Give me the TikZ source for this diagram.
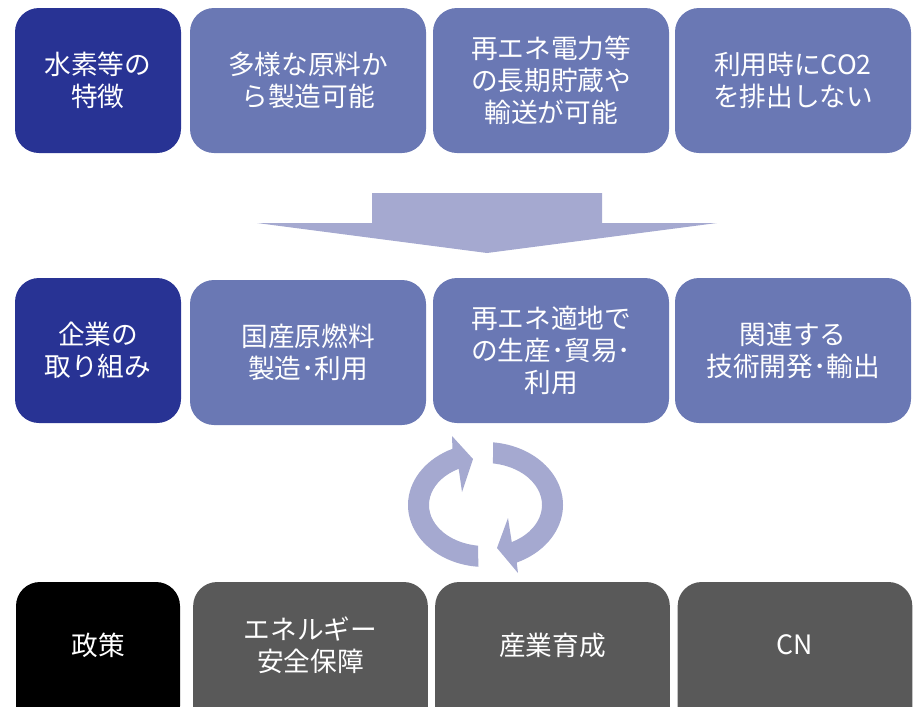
\documentclass[tikz,border=0pt]{standalone}
\usepackage{fontspec}
\setmainfont{Noto Sans CJK JP}
\usetikzlibrary{calc}
\definecolor{navy}{RGB}{40,51,148}
\definecolor{midblue}{RGB}{106,120,180}
\definecolor{lightblue}{RGB}{165,169,208}
\definecolor{darkgray}{RGB}{89,89,89}
\begin{document}
\begin{tikzpicture}[x=0.75pt,y=-0.75pt,
  box/.style={rectangle, rounded corners=18pt, inner sep=0pt, text=white, align=center,
    font=\fontsize{20}{24}\selectfont},
  narrow/.style={box, minimum width=124.5pt, minimum height=108.75pt},
  wide/.style={box, minimum width=177pt, minimum height=108.75pt},
  narrowlow/.style={box, minimum width=123pt, minimum height=111pt},
  widelow/.style={box, minimum width=176pt, minimum height=111pt},
  txt/.style={text=white, align=center, inner sep=0pt, font=\fontsize{20}{24}\selectfont},
  shapefill/.style={fill=lightblue, draw=none}]
\useasboundingbox (0,0) rectangle (918,707);
\clip (0,0) rectangle (918,707);
% row 1
\node[narrow, fill=navy] (a1) at (98,80.5) {水素等の\\特徴};
\node[wide, fill=midblue] (a2) at (308,80.5) {多様な原料か\\ら製造可能};
\node[wide, fill=midblue] (a3) at (551,80.5) {再エネ電力等\\の長期貯蔵や\\輸送が可能};
\node[wide, fill=midblue] (a4) at (793,80.5) {利用時にCO2\\を排出しない};
% down arrow
\fill[lightblue] (372,193) -- (602,193) -- (602,223) -- (717,223) -- (487,253) -- (257,223) -- (372,223) -- cycle;
% row 2
\node[narrow, fill=navy] (b1) at (98,350.5) {企業の\\取り組み};
\node[wide, fill=midblue] (b2) at (308,352.5) {国産原燃料\\製造･利用};
\node[wide, fill=midblue] (b3) at (551,350.5) {再エネ適地で\\の生産･貿易･\\利用};
\node[wide, fill=midblue] (b4) at (793,350.5) {関連する\\技術開発･輸出};
% cycle arrows
\coordinate (c) at (485,505);
\path[shapefill] ($(c)+(95:77 and 62)$) arc[start angle=95, end angle=245, x radius=77, y radius=62]
  -- (452,436) -- (473,459) -- (462,492) -- ($(c)+(242:56 and 41)$)
  arc[start angle=242, end angle=97, x radius=56, y radius=41] -- cycle;
\path[shapefill] ($(c)+(276:78 and 63)$) arc[start angle=276, end angle=426, x radius=78, y radius=63]
  -- (518,573) -- (497,548) -- (508,518) -- ($(c)+(422:57 and 42)$)
  arc[start angle=422, end angle=278, x radius=57, y radius=42] -- cycle;
% row 3
\node[narrowlow, fill=black] (p1) at (98,656) {};
\node[widelow, fill=darkgray] (p2) at (310.5,656) {};
\node[widelow, fill=darkgray] (p3) at (552.5,656) {};
\node[widelow, fill=darkgray] (p4) at (795,656) {};
\node[txt] (p1t) at (98,645) {政策};
\node[txt] (p2t) at (310.5,645) {エネルギー\\安全保障};
\node[txt] (p3t) at (552.5,645) {産業育成};
\node[txt] (p4t) at (795,645) {CN};
\end{tikzpicture}
\end{document}
